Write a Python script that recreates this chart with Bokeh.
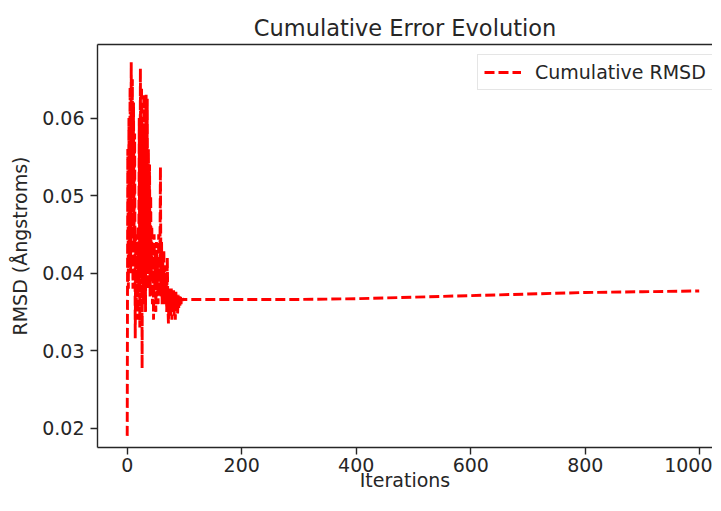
from bokeh.plotting import figure
from bokeh.models import (Range1d, FixedTicker, Legend, LegendItem, LinearAxis,
                          ColumnDataSource, PrintfTickFormatter)
from bokeh.embed import file_html
from bokeh.resources import INLINE

# ---- data ----
early_iterations = list(range(0, 100))
early_rmsd = [
    0.0190, 0.0560, 0.0380, 0.0600, 0.0420, 0.0640, 0.0400, 0.0672, 0.0450, 0.0650,
    0.0380, 0.0620, 0.0440, 0.0580, 0.0316, 0.0450, 0.0360, 0.0430, 0.0340, 0.0460,
    0.0380, 0.0600, 0.0330, 0.0664, 0.0400, 0.0640, 0.0277, 0.0590, 0.0360, 0.0630,
    0.0390, 0.0580, 0.0350, 0.0630, 0.0400, 0.0625, 0.0380, 0.0560, 0.0410, 0.0540,
    0.0370, 0.0500, 0.0390, 0.0460, 0.0360, 0.0440, 0.0340, 0.0450, 0.0380, 0.0430,
    0.0350, 0.0440, 0.0370, 0.0420, 0.0360, 0.0450, 0.0380, 0.0410, 0.0537, 0.0370,
    0.0440, 0.0360, 0.0420, 0.0380, 0.0430, 0.0360, 0.0410, 0.0370, 0.0400, 0.0350,
    0.0420, 0.0360, 0.0335, 0.0380, 0.0350, 0.0378, 0.0345, 0.0380, 0.0340, 0.0375,
    0.0350, 0.0378, 0.0345, 0.0372, 0.0340, 0.0376, 0.0352, 0.0374, 0.0348, 0.0372,
    0.0355, 0.0370, 0.0358, 0.0372, 0.0360, 0.0368, 0.0364, 0.0367, 0.0366, 0.0366,
]
late_iterations = [200, 300, 400, 500, 600, 700, 800, 900, 999]
late_rmsd = [0.0366, 0.0366, 0.0367, 0.0369, 0.0371, 0.0373, 0.0375, 0.0376, 0.0377]

iterations = early_iterations + late_iterations
rmsd = early_rmsd + late_rmsd

x_ticks = [0, 200, 400, 600, 800, 1000]
y_ticks = [0.02, 0.03, 0.04, 0.05, 0.06]

title_text = "Cumulative Error Evolution"
x_label = "Iterations"
y_label = "RMSD (Ångstroms)"
series_label = "Cumulative RMSD"

FONT = "DejaVu Sans"
TXT = "#262626"

source = ColumnDataSource(data=dict(it=iterations, rmsd=rmsd))

p = figure(width=712, height=495, output_backend="svg", toolbar_location=None,
           x_range=Range1d(-51.9, 1022.2), y_range=Range1d(0.0175, 0.0695),
           min_border_left=97, min_border_right=0, min_border_top=44,
           min_border_bottom=48, background_fill_color="white",
           border_fill_color="white")

r = p.line(x="it", y="rmsd", source=source, line_color="red",
           line_width=2.9, line_dash="10 4")

# title
p.title.text = title_text
p.title.align = "center"
p.title.text_font = FONT
p.title.text_font_size = "22.5px"
p.title.text_font_style = "normal"
p.title.text_color = TXT
p.title.standoff = 8

p.xgrid.visible = False
p.ygrid.visible = False
p.outline_line_color = None

xax = p.below[0]
yax = p.left[0]

for ax in (xax, yax):
    ax.axis_line_color = TXT
    ax.axis_line_width = 1.4
    ax.major_tick_line_color = TXT
    ax.major_tick_line_width = 1.4
    ax.major_tick_out = 7
    ax.major_tick_in = 0
    ax.minor_tick_line_color = None
    ax.major_label_text_font = FONT
    ax.major_label_text_font_size = "19px"
    ax.major_label_text_color = TXT
    ax.axis_label_text_font = FONT
    ax.axis_label_text_font_size = "19px"
    ax.axis_label_text_font_style = "normal"
    ax.axis_label_text_color = TXT

xax.ticker = FixedTicker(ticks=x_ticks)
xax.formatter = PrintfTickFormatter(format="%d")
xax.major_label_standoff = 3
xax.axis_label = x_label
xax.axis_label_standoff = -6

yax.ticker = FixedTicker(ticks=y_ticks)
yax.formatter = PrintfTickFormatter(format="%.2f")
yax.major_label_standoff = 6
yax.axis_label = y_label
yax.axis_label_standoff = 8

# top spine (the right spine lies outside the picture in the reference)
top_ax = LinearAxis(ticker=FixedTicker(ticks=[]), axis_line_color=TXT,
                    axis_line_width=1.4, major_tick_line_color=None,
                    minor_tick_line_color=None, major_label_text_font_size="0px",
                    major_label_standoff=0, major_tick_out=0, major_tick_in=0)
p.add_layout(top_ax, "above")

legend = Legend(items=[LegendItem(label=series_label, renderers=[r])],
                location=(380, 357), margin=0, padding=6, spacing=0,
                glyph_width=37, glyph_height=20, label_standoff=14,
                label_text_font=FONT, label_text_font_size="19px",
                label_text_color=TXT, border_line_color="#cccccc",
                border_line_width=1.3, background_fill_color="white",
                background_fill_alpha=0.8)
p.add_layout(legend)

open("out.html", "w").write(file_html(p, INLINE))
